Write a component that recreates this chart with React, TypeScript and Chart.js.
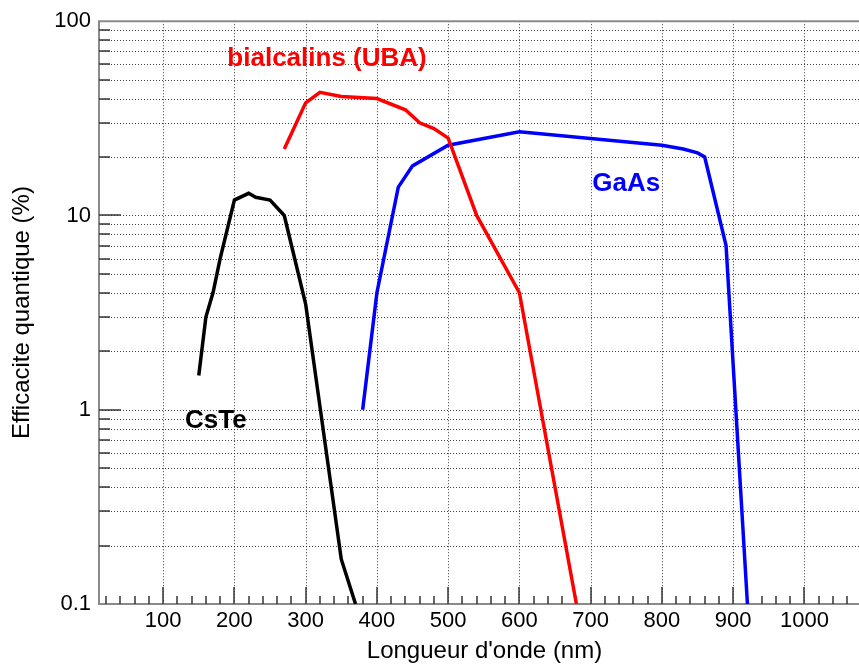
import React, { useEffect, useRef } from "react";
import { Chart, registerables } from "chart.js";

Chart.register(...registerables);

// ---- Data ----
const csteWavelength = [150, 160, 170, 180, 200, 220, 230, 250, 270, 300, 350, 370];
const csteQE = [1.5, 3, 4, 6, 12, 13, 12.4, 12, 10, 3.5, 0.17, 0.1];

const bialkaliWavelength = [270, 300, 320, 350, 400, 440, 460, 480, 500, 540, 600, 680];
const bialkaliQE = [22, 38, 43, 41, 40, 35, 30, 28, 25, 10, 4, 0.1];

const gaasWavelength = [380, 400, 430, 450, 500, 600, 800, 830, 850, 860, 890, 920];
const gaasQE = [1, 4, 14, 18, 23, 27, 23, 22, 21, 20, 7, 0.1];

const xMajorTicks = [100, 200, 300, 400, 500, 600, 700, 800, 900, 1000];
const yMajorTicks = [0.1, 1, 10, 100];
const seriesNames = ["CsTe", "bialcalins (UBA)", "GaAs"];
const xTitle = "Longueur d'onde (nm)";
const yTitle = "Efficacite quantique (%)";

// ---- Layout / style (not data) ----
const X_MIN = 10;
const X_MAX = 1092;
const Y_MIN = 0.1;
const Y_MAX = 100;
const FONT = "'Liberation Sans', Arial, Helvetica, sans-serif";
const seriesColors = ["#000000", "#ff0000", "#0000ff"];
const labelAnchors = [
  { x: 174, y: 0.88 },
  { x: 330, y: 64 },
  { x: 750, y: 14.6 },
];

const toPoints = (xs: number[], ys: number[]) => xs.map((x, i) => ({ x, y: ys[i] }));

const framePlugin = {
  id: "rootFrame",
  beforeDatasetsDraw(chart: any) {
    const { ctx, chartArea: a, scales } = chart;
    const xs = scales.x;
    const ys = scales.y;
    ctx.save();
    // dotted grid
    ctx.setLineDash([1, 2]);
    ctx.strokeStyle = "rgba(0,0,0,0.75)";
    ctx.lineWidth = 1;
    for (const v of xMajorTicks) {
      const px = Math.round(xs.getPixelForValue(v)) + 0.5;
      ctx.beginPath();
      ctx.moveTo(px, a.top);
      ctx.lineTo(px, a.bottom);
      ctx.stroke();
    }
    for (let d = 0.1; d < 100; d *= 10) {
      for (let m = 1; m <= 9; m++) {
        const v = m * d;
        if (v <= Y_MIN * 1.0001 || v >= Y_MAX * 0.9999) continue;
        const py = Math.round(ys.getPixelForValue(v)) + 0.5;
        ctx.beginPath();
        ctx.moveTo(a.left, py);
        ctx.lineTo(a.right, py);
        ctx.stroke();
      }
    }
    ctx.setLineDash([]);
    // frame
    ctx.strokeStyle = "#8a8a8a";
    ctx.lineWidth = 2;
    ctx.beginPath();
    ctx.moveTo(a.right, a.top);
    ctx.lineTo(a.left, a.top);
    ctx.lineTo(a.left, a.bottom);
    ctx.lineTo(a.right, a.bottom);
    ctx.stroke();
    // ticks (inside the frame)
    ctx.strokeStyle = "#333";
    ctx.lineWidth = 1.5;
    for (let v = 20; v < X_MAX; v += 20) {
      const px = Math.round(xs.getPixelForValue(v));
      const len = v % 100 === 0 ? 17 : 8;
      ctx.beginPath();
      ctx.moveTo(px, a.bottom);
      ctx.lineTo(px, a.bottom - len);
      ctx.stroke();
    }
    for (let d = 0.1; d < 100; d *= 10) {
      for (let m = 1; m <= 9; m++) {
        const v = m * d;
        if (v <= Y_MIN * 1.0001) continue;
        const py = Math.round(ys.getPixelForValue(v));
        const len = m === 1 ? 22 : 11;
        ctx.beginPath();
        ctx.moveTo(a.left, py);
        ctx.lineTo(a.left + len, py);
        ctx.stroke();
      }
    }
    ctx.restore();
  },
  afterDatasetsDraw(chart: any) {
    const { ctx, scales } = chart;
    ctx.save();
    ctx.font = `bold 26px ${FONT}`;
    ctx.textAlign = "center";
    ctx.textBaseline = "middle";
    seriesNames.forEach((name, i) => {
      ctx.fillStyle = seriesColors[i];
      ctx.fillText(
        name,
        scales.x.getPixelForValue(labelAnchors[i].x),
        scales.y.getPixelForValue(labelAnchors[i].y)
      );
    });
    ctx.restore();
  },
};

export default function App() {
  const canvasRef = useRef<HTMLCanvasElement | null>(null);

  useEffect(() => {
    const canvas = canvasRef.current;
    if (!canvas) return;
    const series = [
      toPoints(csteWavelength, csteQE),
      toPoints(bialkaliWavelength, bialkaliQE),
      toPoints(gaasWavelength, gaasQE),
    ];
    const chart = new Chart(canvas, {
      type: "line",
      data: {
        datasets: series.map((data, i) => ({
          label: seriesNames[i],
          data,
          borderColor: seriesColors[i],
          backgroundColor: seriesColors[i],
          borderWidth: 3.5,
          pointRadius: 0,
          tension: 0,
          fill: false,
        })),
      },
      options: {
        animation: false,
        responsive: false,
        maintainAspectRatio: false,
        devicePixelRatio: 1,
        layout: { padding: { left: 0, top: 19, right: 10, bottom: 0 } },
        plugins: { legend: { display: false }, tooltip: { enabled: false } },
        scales: {
          x: {
            type: "linear",
            min: X_MIN,
            max: X_MAX,
            grid: { display: false, drawTicks: false },
            border: { display: false },
            afterBuildTicks: (scale: any) => {
              scale.ticks = xMajorTicks.map((v) => ({ value: v }));
            },
            afterFit: (scale: any) => {
              scale.height = 63;
            },
            ticks: {
              autoSkip: false,
              maxRotation: 0,
              padding: 4,
              color: "#000",
              font: { family: FONT, size: 22 },
              callback: (v: any) => String(v),
            },
            title: {
              display: true,
              text: xTitle,
              color: "#000",
              font: { family: FONT, size: 24 },
              padding: { top: 0, bottom: 1 },
            },
          },
          y: {
            type: "logarithmic",
            min: Y_MIN,
            max: Y_MAX,
            grid: { display: false, drawTicks: false },
            border: { display: false },
            afterBuildTicks: (scale: any) => {
              scale.ticks = yMajorTicks.map((v) => ({ value: v }));
            },
            afterFit: (scale: any) => {
              scale.width = 99;
            },
            ticks: {
              autoSkip: false,
              padding: 8,
              color: "#000",
              font: { family: FONT, size: 22 },
              callback: (v: any) => String(Number(v)),
            },
            title: {
              display: true,
              text: yTitle,
              color: "#000",
              font: { family: FONT, size: 24 },
              padding: { top: 8, bottom: 0 },
            },
          },
        },
      },
      plugins: [framePlugin],
    });
    return () => chart.destroy();
  }, []);

  return (
    <div
      style={{
        position: "fixed",
        left: 0,
        top: 0,
        width: 859,
        height: 667,
        overflow: "hidden",
        background: "#fff",
      }}
    >
      <canvas ref={canvasRef} width={880} height={667} style={{ width: 880, height: 667, display: "block" }} />
    </div>
  );
}
